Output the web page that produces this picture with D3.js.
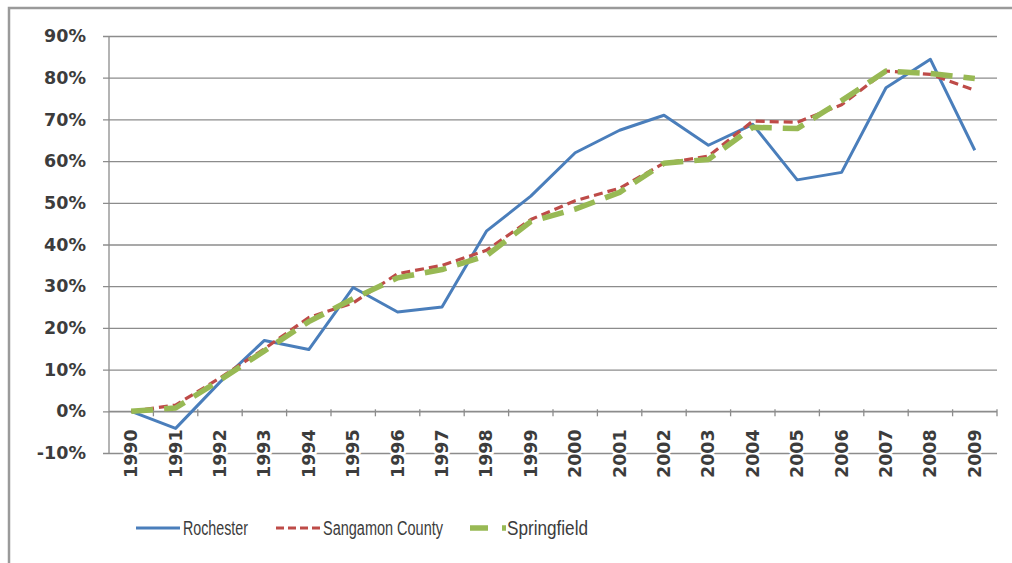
<!DOCTYPE html>
<html>
<head>
<meta charset="utf-8">
<script src="https://cdn.jsdelivr.net/npm/d3@7"></script>
<style>
  body { margin: 0; background: #fff; }
  svg { display: block; }
</style>
</head>
<body>
<script>
const years = ["1990", "1991", "1992", "1993", "1994", "1995", "1996", "1997", "1998", "1999",
    "2000", "2001", "2002", "2003", "2004", "2005", "2006", "2007", "2008", "2009"];
const rochester = [0, -4.1, 7, 17, 14.8, 29.7, 23.8, 25, 43.2, 51.6,
    62, 67.4, 71, 63.8, 68.8, 55.5, 57.3, 77.6, 84.4, 62.6];
const sangamon = [0, 1.5, 8, 15, 22.5, 26, 33, 35, 38.6, 46,
    50.5, 53.5, 59.5, 61.2, 69.6, 69.3, 73.5, 81.6, 80.8, 77];
const springfield = [0, 0.8, 7.5, 14.5, 21.5, 27, 32, 34, 37.3, 45.5,
    48.5, 52.5, 59.5, 60.4, 68.1, 67.8, 74.5, 81.6, 81, 79.8];
const yTicks = [-10, 0, 10, 20, 30, 40, 50, 60, 70, 80, 90];

const width = 1012, height = 563;
const margin = { top: 36, right: 15, bottom: 110, left: 109 };

const series = [
    { name: "Rochester", values: rochester, color: "#4a7ebb", width: 3, dash: null },
    { name: "Sangamon County", values: sangamon, color: "#be4b48", width: 3.2, dash: "9,5" },
    { name: "Springfield", values: springfield, color: "#98b954", width: 5.5, dash: "22,11" }
];

// legend layout
const legendLines = [[136, 180, null], [276, 320, "8,4"], [470, 506, "18,14"]];
const legendText = [[183, 65], [323, 120], [507, 81]];

const svg = d3.select("body").append("svg")
    .attr("width", width)
    .attr("height", height);

// outer chart frame (only top and left visible)
svg.append("path")
    .attr("d", `M9,${height} V8 H${width}`)
    .attr("fill", "none")
    .attr("stroke", "#9a9a9a")
    .attr("stroke-width", 2.5);

const x = d3.scaleBand(years, [margin.left, width - margin.right]);
const y = d3.scaleLinear([-10, 90], [453, margin.top]);

// gridlines + y labels
const yAxis = svg.append("g")
    .attr("transform", `translate(${margin.left},0)`)
    .call(d3.axisLeft(y)
        .tickValues(yTicks)
        .tickSize(-(width - margin.right - margin.left))
        .tickPadding(23)
        .tickFormat(d => d + "%"))
    .call(g => g.select(".domain").remove());

yAxis.selectAll(".tick line")
    .attr("x1", -6)
    .attr("stroke", "#8c8c8c")
    .attr("stroke-width", 1.3);

yAxis.selectAll(".tick text")
    .attr("font-family", "DejaVu Sans")
    .attr("font-size", 17.5)
    .attr("font-weight", 600)
    .attr("fill", "#3c3c3c");

// left axis line
svg.append("line")
    .attr("x1", margin.left).attr("x2", margin.left)
    .attr("y1", y(90)).attr("y2", y(-10))
    .attr("stroke", "#8c8c8c")
    .attr("stroke-width", 1.3);

// category axis crossing at 0%
svg.append("line")
    .attr("x1", margin.left).attr("x2", width - margin.right)
    .attr("y1", y(0)).attr("y2", y(0))
    .attr("stroke", "#8c8c8c")
    .attr("stroke-width", 1.3);

svg.append("g")
    .selectAll("line")
    .data(years)
    .join("line")
    .attr("x1", d => x(d) + x.step())
    .attr("x2", d => x(d) + x.step())
    .attr("y1", y(0) - 2)
    .attr("y2", y(0) + 5)
    .attr("stroke", "#8c8c8c")
    .attr("stroke-width", 1.3);

// rotated year labels
svg.append("g")
    .selectAll("text")
    .data(years)
    .join("text")
    .attr("transform", d => `translate(${x(d) + x.bandwidth() / 2 + 6},${y(0) + 18}) rotate(-90)`)
    .attr("text-anchor", "end")
    .attr("font-family", "DejaVu Sans")
    .attr("font-size", 17.5)
    .attr("font-weight", 600)
    .attr("fill", "#3c3c3c")
    .attr("stroke", "#fff")
    .attr("stroke-width", 5)
    .attr("paint-order", "stroke")
    .text(d => d);

// series lines
const line = d3.line()
    .x((d, i) => x(years[i]) + x.bandwidth() / 2)
    .y(d => y(d));

svg.append("g")
    .attr("fill", "none")
    .selectAll("path")
    .data(series)
    .join("path")
    .attr("stroke", d => d.color)
    .attr("stroke-width", d => d.width)
    .attr("stroke-dasharray", d => d.dash)
    .attr("stroke-linejoin", "round")
    .attr("d", d => line(d.values));

// legend
const legend = svg.append("g")
    .selectAll("g")
    .data(series)
    .join("g")
    .attr("transform", "translate(0,528)");

legend.append("line")
    .attr("x1", (d, i) => legendLines[i][0])
    .attr("x2", (d, i) => legendLines[i][1])
    .attr("stroke", d => d.color)
    .attr("stroke-width", d => d.width)
    .attr("stroke-dasharray", (d, i) => legendLines[i][2]);

legend.append("text")
    .attr("x", (d, i) => legendText[i][0])
    .attr("dy", "0.36em")
    .attr("textLength", (d, i) => legendText[i][1])
    .attr("lengthAdjust", "spacingAndGlyphs")
    .attr("font-family", "Liberation Sans, sans-serif")
    .attr("font-size", 20)
    .attr("fill", "#3c3c3c")
    .text(d => d.name);
</script>
</body>
</html>
